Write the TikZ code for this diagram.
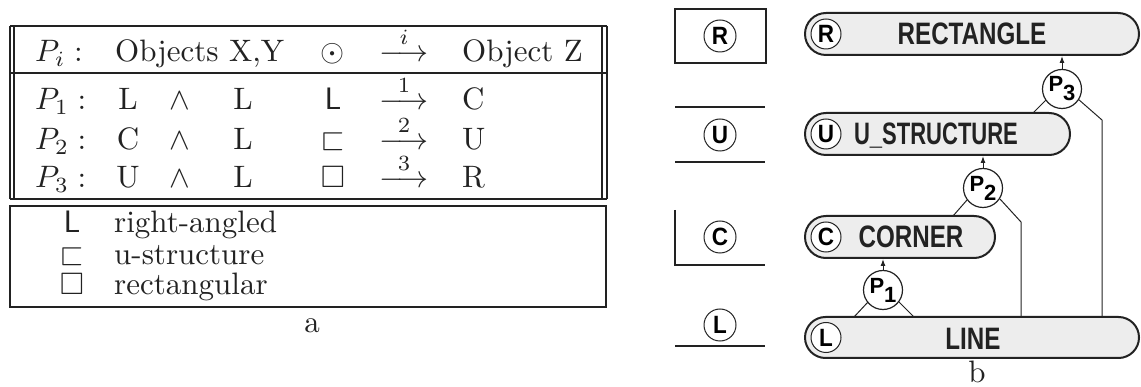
\documentclass[tikz,border=0pt]{standalone}
\usepackage{amsmath,amssymb}
\usepackage{graphicx}
\usepackage{fontspec}
\newfontfamily\capfont{Liberation Sans}
\usetikzlibrary{shapes.misc,arrows.meta}
\newcommand\Tx[1]{\scalebox{3.1}{\fontsize{10}{12}\selectfont #1}}
\newcommand\captxt[2][0.78]{\scalebox{#1}[1]{\capfont\bfseries\fontsize{31}{32}\selectfont #2}}
\newcommand\circlet[1]{\scalebox{0.9}[1]{\capfont\bfseries\fontsize{25}{25}\selectfont #1}}
\newcommand\plab[1]{\capfont\bfseries\fontsize{22}{22}\selectfont P\raisebox{-9pt}{#1}}
\definecolor{ink}{HTML}{222222}
\begin{document}
\begin{tikzpicture}[x=1pt,y=-1pt]
\tikzset{
  tx/.style={inner sep=0pt, text=ink},
  frame/.style={line width=1.8pt, draw=ink},
  capsule/.style={rounded rectangle, draw=ink, line width=2pt, fill=black!7, inner sep=0pt},
  capcirc/.style={circle, draw=ink, line width=1pt, fill=white, minimum size=30pt, inner sep=0pt},
  smallcirc/.style={circle, draw=ink, line width=1pt, minimum size=32pt, inner sep=0pt},
  pcirc/.style={circle, draw=ink, line width=1.2pt, fill=white, minimum size=39pt, inner sep=0pt},
  conn/.style={line width=1pt, draw=ink},
  arr/.style={line width=1pt, draw=ink, -{Latex[length=7pt,width=5pt]}},
}
\useasboundingbox (0,0) rectangle (1141,387);

% ---------- panel a: table ----------
\draw[frame] (10,26) -- (607,26);
\draw[frame] (10,73) -- (607,73);
\draw[frame] (10,199) -- (607,199);
\draw[frame] (10,26) -- (10,199);
\draw[frame] (14,26) -- (14,199);
\draw[frame] (602,26) -- (602,199);
\draw[frame] (607,26) -- (607,199);

\node[tx, anchor=base west] (hp) at (35,62) {\Tx{$P_i:$}};
\node[tx, anchor=base west] (hobj) at (115,62) {\Tx{Objects X,Y}};
\node[tx, anchor=base] (hop) at (333,62) {\Tx{$\odot$}};
\node[tx, anchor=base] (harr) at (404,62) {\Tx{$\stackrel{i}{\longrightarrow}$}};
\node[tx, anchor=base west] (hz) at (462,62) {\Tx{Object Z}};

\node[tx, anchor=base west] (p1a) at (35,110) {\Tx{$P_1:$}};
\node[tx, anchor=base] (p1x) at (128,110) {\Tx{L}};
\node[tx, anchor=base] (p1w) at (180,110) {\Tx{$\wedge$}};
\node[tx, anchor=base] (p1y) at (243,110) {\Tx{L}};
\node[tx, anchor=base] (p1s) at (333,110) {\Tx{\textsf{L}}};
\node[tx, anchor=base] (p1r) at (404,110) {\Tx{$\stackrel{1}{\longrightarrow}$}};
\node[tx, anchor=base west] (p1z) at (462,110) {\Tx{C}};

\node[tx, anchor=base west] (p2a) at (35,150) {\Tx{$P_2:$}};
\node[tx, anchor=base] (p2x) at (128,150) {\Tx{C}};
\node[tx, anchor=base] (p2w) at (180,150) {\Tx{$\wedge$}};
\node[tx, anchor=base] (p2y) at (243,150) {\Tx{L}};
\node[tx, anchor=base] (p2s) at (333,150) {\Tx{$\sqsubset$}};
\node[tx, anchor=base] (p2r) at (404,150) {\Tx{$\stackrel{2}{\longrightarrow}$}};
\node[tx, anchor=base west] (p2z) at (462,150) {\Tx{U}};

\node[tx, anchor=base west] (p3a) at (35,188) {\Tx{$P_3:$}};
\node[tx, anchor=base] (p3x) at (128,188) {\Tx{U}};
\node[tx, anchor=base] (p3w) at (180,188) {\Tx{$\wedge$}};
\node[tx, anchor=base] (p3y) at (243,188) {\Tx{L}};
\node[tx, anchor=base] (p3s) at (333,188) {\Tx{$\square$}};
\node[tx, anchor=base] (p3r) at (404,188) {\Tx{$\stackrel{3}{\longrightarrow}$}};
\node[tx, anchor=base west] (p3z) at (462,188) {\Tx{R}};

% legend
\draw[frame] (10,206) rectangle (606,307);
\node[tx, anchor=base] (l1s) at (72,233) {\Tx{\textsf{L}}};
\node[tx, anchor=base west] (l1t) at (114,233) {\Tx{right-angled}};
\node[tx, anchor=base] (l2s) at (72,265) {\Tx{$\sqsubset$}};
\node[tx, anchor=base west] (l2t) at (114,265) {\Tx{u-structure}};
\node[tx, anchor=base] (l3s) at (72,295) {\Tx{$\square$}};
\node[tx, anchor=base west] (l3t) at (114,295) {\Tx{rectangular}};
\node[tx, anchor=base] (la) at (312,333) {\Tx{a}};

% ---------- panel b ----------
\draw[frame] (675,9) rectangle (766,63);
\draw[frame] (675,107) -- (765,107);
\draw[frame] (675,162) -- (765,162);
\draw[frame] (675,210) -- (675,265) -- (765,265);
\draw[frame] (675,346) -- (765,346);
\node[smallcirc] (sr) at (720,36) {\circlet{R}};
\node[smallcirc] (su) at (720,135) {\circlet{U}};
\node[smallcirc] (sc) at (720,237) {\circlet{C}};
\node[smallcirc] (sl) at (720,325) {\circlet{L}};

\node[capsule, minimum width=334pt, minimum height=42pt] (rect) at (972,34) {};
\node[capsule, minimum width=265pt, minimum height=42pt] (ustr) at (937.5,134) {};
\node[capsule, minimum width=190pt, minimum height=42pt] (corner) at (900,237) {};
\node[capsule, minimum width=334pt, minimum height=41pt] (line) at (972,337.5) {};

\node[capcirc] (rc) at (826,34) {\circlet{R}};
\node[capcirc] (uc) at (826,134) {\circlet{U}};
\node[capcirc] (cc) at (826,237) {\circlet{C}};
\node[capcirc] (lc) at (826,337.5) {\circlet{L}};

\node[tx, anchor=base] (rt) at (972,45) {\captxt{RECTANGLE}};
\node[tx, anchor=base] (ut) at (936,145) {\captxt[0.71]{U\_STRUCTURE}};
\node[tx, anchor=base] (ct) at (911,248) {\captxt{CORNER}};
\node[tx, anchor=base] (lt) at (973,349) {\captxt{LINE}};

\coordinate (a3) at (1033,113);
\coordinate (b3) at (1102,120);
\coordinate (a2) at (953,216);
\coordinate (b2) at (1021,222);
\coordinate (a1) at (854,317);
\coordinate (b1) at (914,317);

\draw[conn] (a3) -- (1046,100) coordinate (a3s);
\draw[conn] (b3 |- line.north) -- (b3) -- (1078,99) coordinate (b3s);
\draw[conn] (a2) -- (967,200) coordinate (a2s);
\draw[conn] (b2 |- line.north) -- (b2) -- (1000,199) coordinate (b2s);
\draw[conn] (a1) -- (868,302) coordinate (a1s);
\draw[conn] (b1) -- (899,302) coordinate (b1s);

\node[pcirc] (p3) at (1062,89) {\plab{3}};
\node[pcirc] (p2) at (983,188) {\plab{2}};
\node[pcirc] (p1) at (883,290) {\plab{1}};

\draw[arr] (p3.north) -- (p3.north |- rect.south);
\draw[arr] (p2.north) -- (p2.north |- ustr.south);
\draw[arr] (p1.north) -- (p1.north |- corner.south);

\node[tx, anchor=base] (lb) at (977,383) {\Tx{b}};
\end{tikzpicture}
\end{document}
